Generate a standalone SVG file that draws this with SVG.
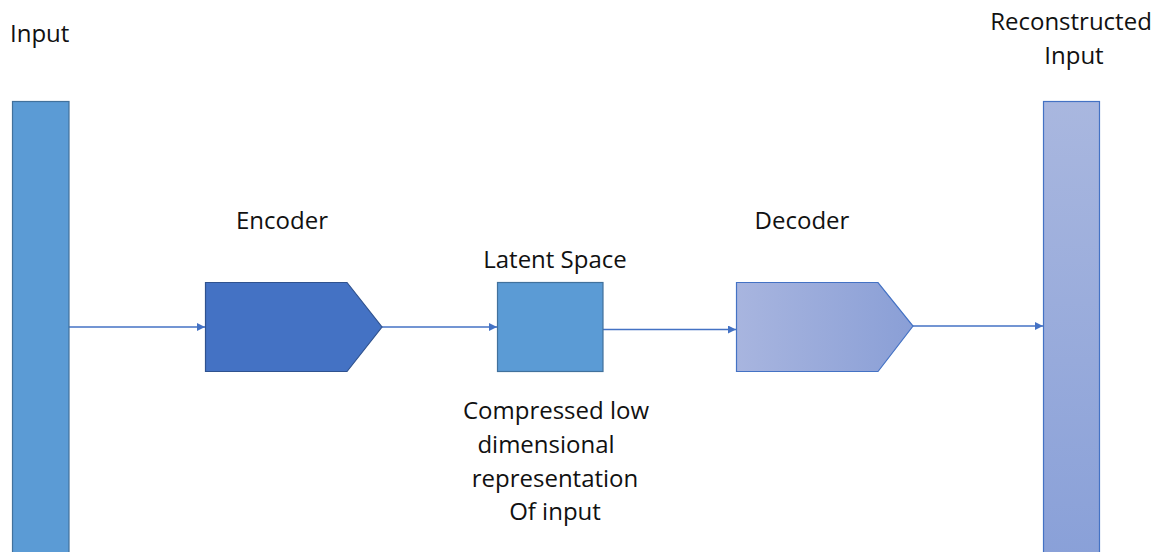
<svg xmlns="http://www.w3.org/2000/svg" width="1164" height="552" viewBox="0 0 1164 552">
<style>
text{font-family:"Open Sans","Liberation Sans",sans-serif;font-size:24px;fill:#111}
.c{text-anchor:middle}
.conn{stroke:#4472C4;stroke-width:1.3;fill:none}
</style>
<defs>
<marker id="ah" viewBox="0 0 10 10" refX="10" refY="5" markerWidth="8" markerHeight="8" markerUnits="userSpaceOnUse" orient="auto"><path d="M0,0L10,5L0,10z" fill="#4472C4"/></marker>
<linearGradient id="gd" x1="0" y1="0" x2="1" y2="0"><stop offset="0" stop-color="#A8B5DF"/><stop offset="1" stop-color="#8A9FD6"/></linearGradient>
<linearGradient id="gr" x1="0" y1="0" x2="0" y2="1"><stop offset="0" stop-color="#A9B7DF"/><stop offset="1" stop-color="#89A0D8"/></linearGradient>
</defs>
<g id="connectors">
<line class="conn" x1="69" y1="327" x2="205" y2="327" marker-end="url(#ah)"/>
<line class="conn" x1="382" y1="327" x2="497" y2="327" marker-end="url(#ah)"/>
<line class="conn" x1="603" y1="329.5" x2="736" y2="329.5" marker-end="url(#ah)"/>
<line class="conn" x1="913" y1="326" x2="1043" y2="326" marker-end="url(#ah)"/>
</g>
<g id="input">
<rect x="12.5" y="101.5" width="56.5" height="460" fill="#5B9BD5" stroke="#41719C" stroke-width="1.2"/>
<text x="10" y="42">Input</text>
</g>
<g id="encoder">
<path d="M205.5,282.5H347L382,327L347,371.5H205.5Z" fill="#4472C4" stroke="#2F528F" stroke-width="1.2"/>
<text class="c" x="282" y="229">Encoder</text>
</g>
<g id="latent">
<rect x="497.5" y="282.5" width="105.5" height="89" fill="#5B9BD5" stroke="#41719C" stroke-width="1.2"/>
<text class="c" x="555" y="268">Latent Space</text>
<text class="c" x="556" y="419">Compressed low</text>
<text class="c" x="546" y="453">dimensional</text>
<text class="c" x="555" y="487">representation</text>
<text class="c" x="555" y="520">Of input</text>
</g>
<g id="decoder">
<path d="M736.5,282.5H878L913,326L878,371.5H736.5Z" fill="url(#gd)" stroke="#4472C4" stroke-width="1.2"/>
<text class="c" x="802" y="229">Decoder</text>
</g>
<g id="reconstructed">
<rect x="1043.5" y="101.5" width="56" height="460" fill="url(#gr)" stroke="#4472C4" stroke-width="1.2"/>
<text class="c" x="1071" y="30">Reconstructed</text>
<text class="c" x="1074" y="64">Input</text>
</g>
</svg>
